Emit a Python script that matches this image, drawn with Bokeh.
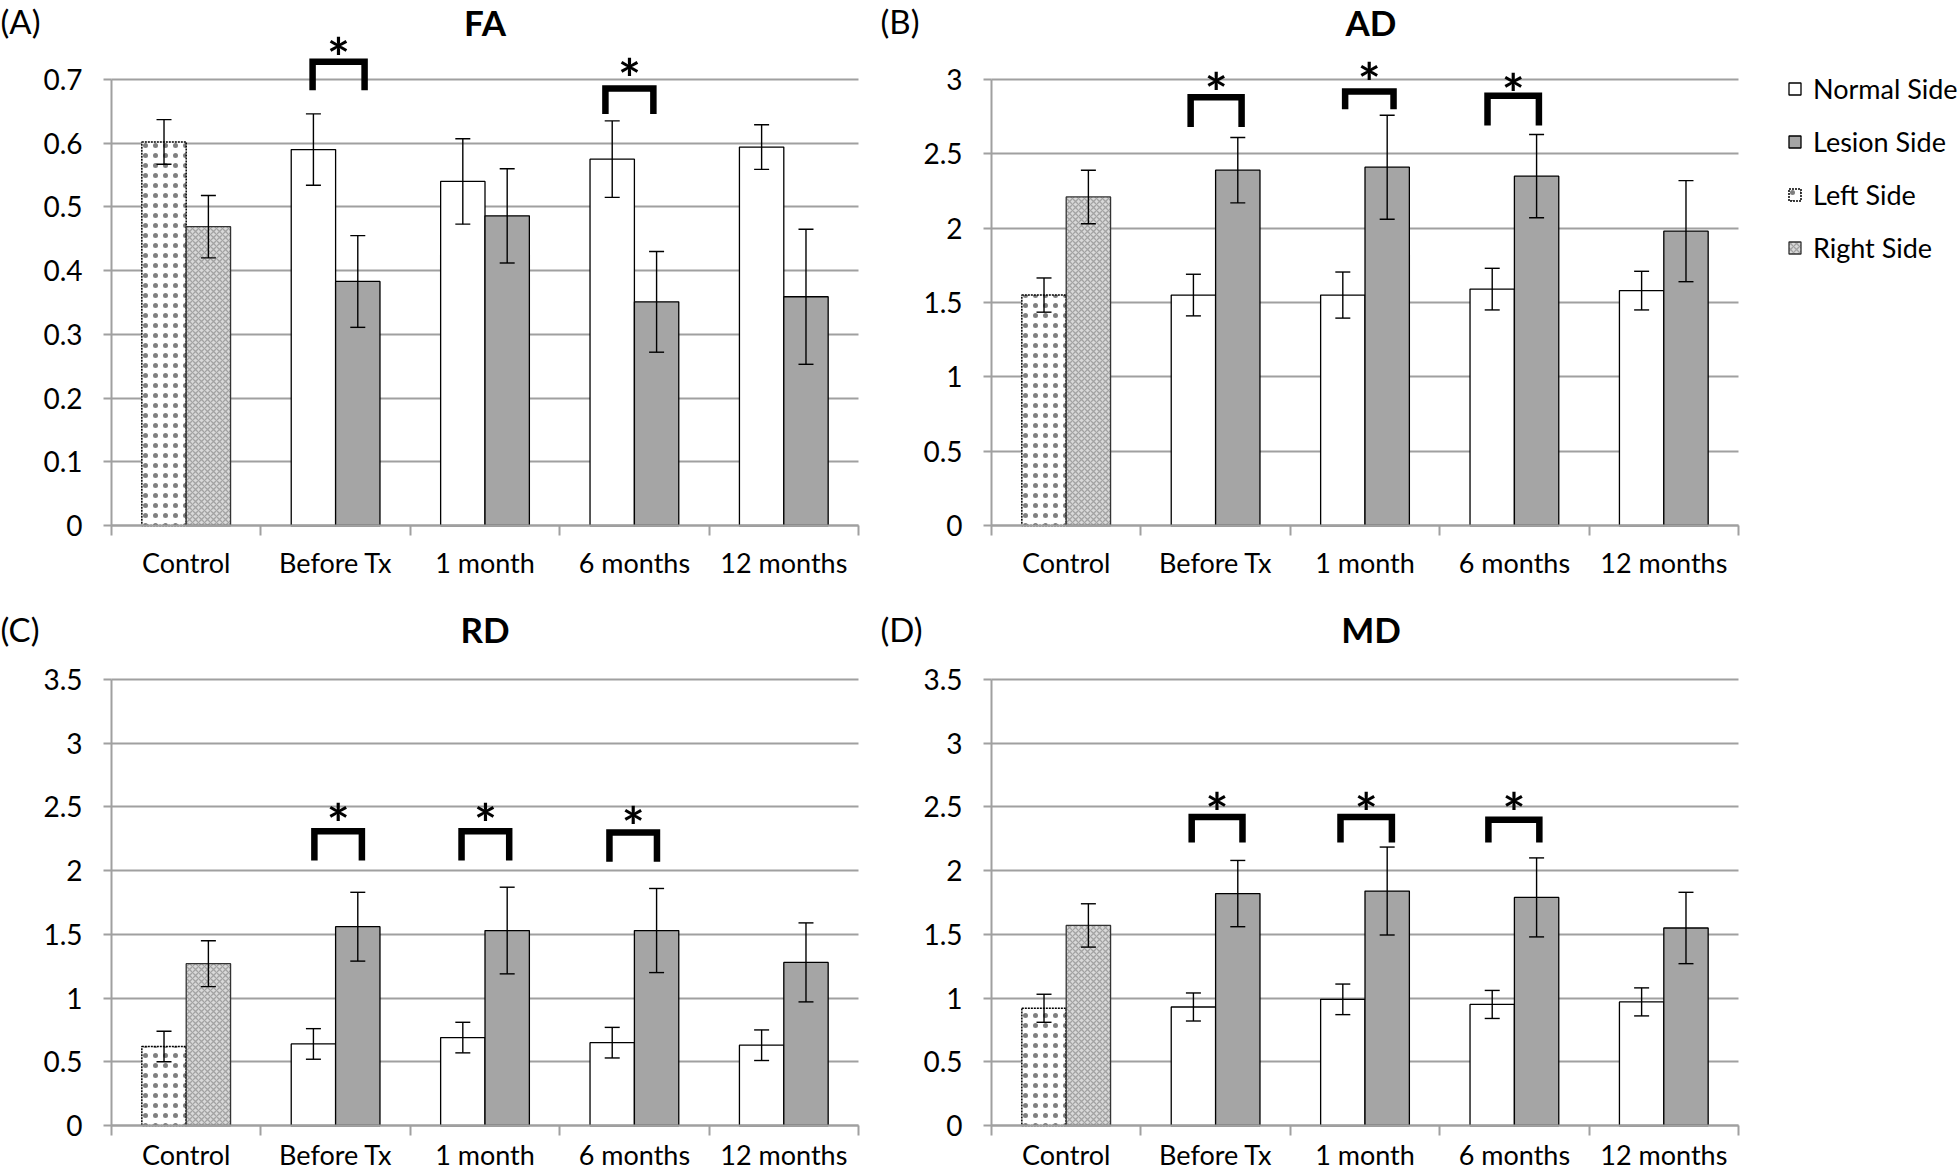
import numpy as np
from bokeh.plotting import figure
from bokeh.models import (ColumnDataSource, Whisker, TeeHead, FixedTicker, Grid,
                          CustomJSTickFormatter, Legend, LegendItem, Range1d)
from bokeh.layouts import column, row
from bokeh.core.properties import value
from bokeh.embed import file_html
from bokeh.resources import INLINE

categories = ["Control", "Before Tx", "1 month", "6 months", "12 months"]

# Column 0 = Control (Left Side / Right Side); columns 1-4 = Normal Side / Lesion Side
fa_a = [0.602, 0.590, 0.540, 0.575, 0.594]
fa_a_sd = [0.035, 0.056, 0.067, 0.060, 0.035]
fa_b = [0.469, 0.383, 0.486, 0.351, 0.359]
fa_b_sd = [0.049, 0.072, 0.074, 0.079, 0.106]

ad_a = [1.55, 1.55, 1.55, 1.59, 1.58]
ad_a_sd = [0.115, 0.14, 0.155, 0.14, 0.13]
ad_b = [2.21, 2.39, 2.41, 2.35, 1.98]
ad_b_sd = [0.18, 0.22, 0.35, 0.28, 0.34]

rd_a = [0.62, 0.64, 0.69, 0.65, 0.63]
rd_a_sd = [0.12, 0.12, 0.12, 0.12, 0.12]
rd_b = [1.27, 1.56, 1.53, 1.53, 1.28]
rd_b_sd = [0.18, 0.27, 0.34, 0.33, 0.31]

md_a = [0.92, 0.93, 0.99, 0.95, 0.97]
md_a_sd = [0.11, 0.11, 0.12, 0.11, 0.11]
md_b = [1.57, 1.82, 1.84, 1.79, 1.55]
md_b_sd = [0.17, 0.26, 0.345, 0.31, 0.28]

fa_ticks = [0, 0.1, 0.2, 0.3, 0.4, 0.5, 0.6, 0.7]
ad_ticks = [0, 0.5, 1, 1.5, 2, 2.5, 3]
rd_ticks = [0, 0.5, 1, 1.5, 2, 2.5, 3, 3.5]
md_ticks = [0, 0.5, 1, 1.5, 2, 2.5, 3, 3.5]

series_labels = ["Normal Side", "Lesion Side", "Left Side", "Right Side"]
panel_letters = ["(A)", "(B)", "(C)", "(D)"]
panel_titles = ["FA", "AD", "RD", "MD"]

# significance brackets: category index, left/right leg offsets, top, leg bottom, star height
fa_sig_cat = [1, 3]
fa_sig_l = [-0.154, -0.194]
fa_sig_r = [0.194, 0.127]
fa_sig_top = [0.728, 0.686]
fa_sig_bot = [0.683, 0.646]
fa_sig_star = [0.755, 0.722]

ad_sig_cat = [1, 2, 3]
ad_sig_l = [-0.167, -0.133, -0.180]
ad_sig_r = [0.174, 0.191, 0.164]
ad_sig_top = [2.88, 2.92, 2.89]
ad_sig_bot = [2.68, 2.80, 2.69]
ad_sig_star = [3.00, 3.07, 2.99]

rd_sig_cat = [1, 2, 3]
rd_sig_l = [-0.142, -0.157, -0.167]
rd_sig_r = [0.176, 0.162, 0.151]
rd_sig_top = [2.31, 2.31, 2.30]
rd_sig_bot = [2.08, 2.08, 2.07]
rd_sig_star = [2.47, 2.47, 2.45]

md_sig_cat = [1, 2, 3]
md_sig_l = [-0.160, -0.164, -0.174]
md_sig_r = [0.180, 0.180, 0.167]
md_sig_top = [2.42, 2.42, 2.40]
md_sig_bot = [2.22, 2.22, 2.22]
md_sig_star = [2.56, 2.56, 2.56]

FONT = "Lato"
GRAY = "#a0a0a0"
BAR_W = 0.297
OFF = BAR_W / 2

# layout (pixels)
FIG_W = 880
AXIS_X = 111          # position of the value axis inside each panel
CAT_PX = 149.4        # width of one category
TOP_H = 600
TOP_BOTTOM = 75       # room below the category axis
BOT_H = 573
BOT_BOTTOM = 48
LEG_W = 200
LETTER_Y = [20, 28]   # text centres measured from the top of each row
TITLE_Y = [21.5, 28]
TITLE_SHIFT = [0, 6]
CAT_STANDOFF = [10, 2]

STYLES = {
    "Normal Side": dict(fill_color="white", line_color="black", line_width=1.3),
    "Lesion Side": dict(fill_color="#a5a5a5", line_color="black", line_width=1.3),
    "Left Side": dict(fill_color="white", line_color="black", line_width=1.5,
                      line_dash="2 1", hatch_pattern="dot", hatch_color="black",
                      hatch_scale=10, hatch_weight=1.0, hatch_alpha=0.5),
    "Right Side": dict(fill_color="#d9d9d9", line_color="#333333", line_width=1.3,
                       hatch_pattern="diagonal_cross", hatch_color="#a3a3a3",
                       hatch_scale=6, hatch_weight=1.3),
}


def make_panel(idx, va, va_sd, vb, vb_sd, ticks, height, border_b, px_per_unit, sig):
    r = idx // 2
    plot_h = height - border_b
    ymax = plot_h / px_per_unit
    ymin = -border_b / px_per_unit
    x0 = -AXIS_X / CAT_PX
    x1 = (FIG_W - AXIS_X) / CAT_PX
    p = figure(width=FIG_W, height=height, x_range=Range1d(x0, x1),
               y_range=Range1d(ymin, ymax), output_backend="svg",
               toolbar_location=None, min_border_left=0, min_border_right=0,
               min_border_top=0, min_border_bottom=0)
    p.outline_line_color = None
    p.background_fill_color = "white"
    p.border_fill_color = "white"

    n = len(categories)
    xc = np.arange(n) + 0.5
    va = np.array(va); vb = np.array(vb)
    va_sd = np.array(va_sd); vb_sd = np.array(vb_sd)

    def src(x, v, sd):
        return ColumnDataSource(dict(x=list(x), top=list(v),
                                     up=list(v + sd), lo=list(v - sd)))

    s_left = src(xc[:1] - OFF, va[:1], va_sd[:1])
    s_right = src(xc[:1] + OFF, vb[:1], vb_sd[:1])
    s_norm = src(xc[1:] - OFF, va[1:], va_sd[1:])
    s_les = src(xc[1:] + OFF, vb[1:], vb_sd[1:])

    p.vbar(x="x", top="top", width=BAR_W, source=s_left, **STYLES["Left Side"])
    p.vbar(x="x", top="top", width=BAR_W, source=s_right, **STYLES["Right Side"])
    p.vbar(x="x", top="top", width=BAR_W, source=s_norm, **STYLES["Normal Side"])
    p.vbar(x="x", top="top", width=BAR_W, source=s_les, **STYLES["Lesion Side"])

    for s in (s_left, s_right, s_norm, s_les):
        w = Whisker(base="x", upper="up", lower="lo", source=s,
                    dimension="height", line_color="black", line_width=1.4,
                    upper_head=TeeHead(size=15, line_color="black", line_width=1.4),
                    lower_head=TeeHead(size=15, line_color="black", line_width=1.4),
                    level="overlay")
        p.add_layout(w)

    # significance brackets and stars
    cat, sl, sr, stop, sbot, sstar = sig
    cx = np.array(cat) + 0.5
    xs = [[c + a, c + a, c + b, c + b] for c, a, b in zip(cx, sl, sr)]
    ys = [[lo, hi, hi, lo] for hi, lo in zip(stop, sbot)]
    p.multi_line(xs=xs, ys=ys, line_color="black", line_width=6.5,
                 line_join="miter", line_cap="butt")
    p.text(x=list(cx + (np.array(sl) + np.array(sr)) / 2), y=list(sstar),
           text=["*"] * len(cat), text_font=value(FONT),
           text_font_size="54px", text_font_style="bold", y_offset=12,
           text_align="center", text_baseline="middle", text_color="black")

    # panel letter and title
    p.text(x=[x0], y=[(plot_h - LETTER_Y[r]) / px_per_unit], text=[panel_letters[idx]],
           text_font=value(FONT), text_font_size="33px", text_color="black",
           text_align="left", text_baseline="middle")
    p.text(x=[n / 2 + TITLE_SHIFT[idx % 2] / CAT_PX],
           y=[(plot_h - TITLE_Y[r]) / px_per_unit], text=[panel_titles[idx]],
           text_font=value(FONT), text_font_size="35px", text_font_style="bold",
           text_color="black", text_align="center", text_baseline="middle")

    # value axis (drawn at x = 0 inside the frame)
    p.yaxis.fixed_location = 0
    p.yaxis.ticker = FixedTicker(ticks=ticks)
    p.yaxis.formatter = CustomJSTickFormatter(
        code="return String(Math.round(tick * 100) / 100)")
    p.yaxis.bounds = (0, ticks[-1])
    p.yaxis.axis_line_color = GRAY
    p.yaxis.axis_line_width = 2
    p.yaxis.major_tick_line_color = GRAY
    p.yaxis.major_tick_line_width = 2
    p.yaxis.major_tick_out = 8
    p.yaxis.major_tick_in = 0
    p.yaxis.minor_tick_line_color = None
    p.yaxis.major_label_standoff = 21
    p.yaxis.major_label_text_font = FONT
    p.yaxis.major_label_text_font_size = "28px"
    p.yaxis.major_label_text_color = "black"

    # category axis (drawn at y = 0 inside the frame)
    p.xaxis.fixed_location = 0
    p.xaxis.ticker = FixedTicker(ticks=list(xc), minor_ticks=list(range(n + 1)))
    p.xaxis.formatter = CustomJSTickFormatter(
        args=dict(cats=categories), code="return cats[Math.round(tick - 0.5)]")
    p.xaxis.bounds = (0, n)
    p.xaxis.axis_line_color = GRAY
    p.xaxis.axis_line_width = 2
    p.xaxis.major_tick_line_color = None
    p.xaxis.major_tick_out = 0
    p.xaxis.major_tick_in = 0
    p.xaxis.minor_tick_line_color = GRAY
    p.xaxis.minor_tick_line_width = 2
    p.xaxis.minor_tick_out = 10
    p.xaxis.minor_tick_in = 0
    p.xaxis.major_label_standoff = CAT_STANDOFF[r]
    p.xaxis.major_label_text_font = FONT
    p.xaxis.major_label_text_font_size = "27px"
    p.xaxis.major_label_text_color = "black"

    p.xgrid.grid_line_color = None
    p.ygrid.ticker = FixedTicker(ticks=ticks)
    p.ygrid.grid_line_color = GRAY
    p.ygrid.grid_line_width = 2
    if "cross_bounds" in Grid.properties():
        p.ygrid.cross_bounds = (0, n)
    return p


fa_px = 446 / 0.7
ad_px = 446 / 3.0
rd_px = 446 / 3.5

pA = make_panel(0, fa_a, fa_a_sd, fa_b, fa_b_sd, fa_ticks, TOP_H, TOP_BOTTOM, fa_px,
                (fa_sig_cat, fa_sig_l, fa_sig_r, fa_sig_top, fa_sig_bot, fa_sig_star))
pB = make_panel(1, ad_a, ad_a_sd, ad_b, ad_b_sd, ad_ticks, TOP_H, TOP_BOTTOM, ad_px,
                (ad_sig_cat, ad_sig_l, ad_sig_r, ad_sig_top, ad_sig_bot, ad_sig_star))
pC = make_panel(2, rd_a, rd_a_sd, rd_b, rd_b_sd, rd_ticks, BOT_H, BOT_BOTTOM, rd_px,
                (rd_sig_cat, rd_sig_l, rd_sig_r, rd_sig_top, rd_sig_bot, rd_sig_star))
pD = make_panel(3, md_a, md_a_sd, md_b, md_b_sd, md_ticks, BOT_H, BOT_BOTTOM, rd_px,
                (md_sig_cat, md_sig_l, md_sig_r, md_sig_top, md_sig_bot, md_sig_star))

# legend panel (legend entries only; its renderers hold no visible data)
LEG_LABEL_H = 44
LEG_SPACING = 9
LEG_TOP = 66
leg_h = 4 * LEG_LABEL_H + 3 * LEG_SPACING
pL = figure(width=LEG_W, height=TOP_H, x_range=Range1d(0, 1), y_range=Range1d(0, 1),
            output_backend="svg", toolbar_location=None, min_border_left=0,
            min_border_top=0, min_border_right=0, min_border_bottom=0)
pL.axis.visible = False
pL.grid.visible = False
pL.outline_line_color = None
items = []
for lab in series_labels:
    rr = pL.vbar(x="x", top="top", width=0.1,
                 source=ColumnDataSource(dict(x=[np.nan], top=[np.nan])),
                 **STYLES[lab])
    items.append(LegendItem(label=lab, renderers=[rr]))
legend = Legend(items=items, location=(27, TOP_H - LEG_TOP - leg_h),
                orientation="vertical",
                border_line_color=None, background_fill_alpha=0,
                glyph_width=15, glyph_height=15, label_standoff=11,
                spacing=LEG_SPACING, label_height=LEG_LABEL_H, padding=0, margin=0,
                label_text_font=FONT, label_text_font_size="27px",
                label_text_color="black")
pL.add_layout(legend, "center")

layout = column(row(pA, pB, pL), row(pC, pD))
open("out.html", "w").write(file_html(layout, INLINE))
